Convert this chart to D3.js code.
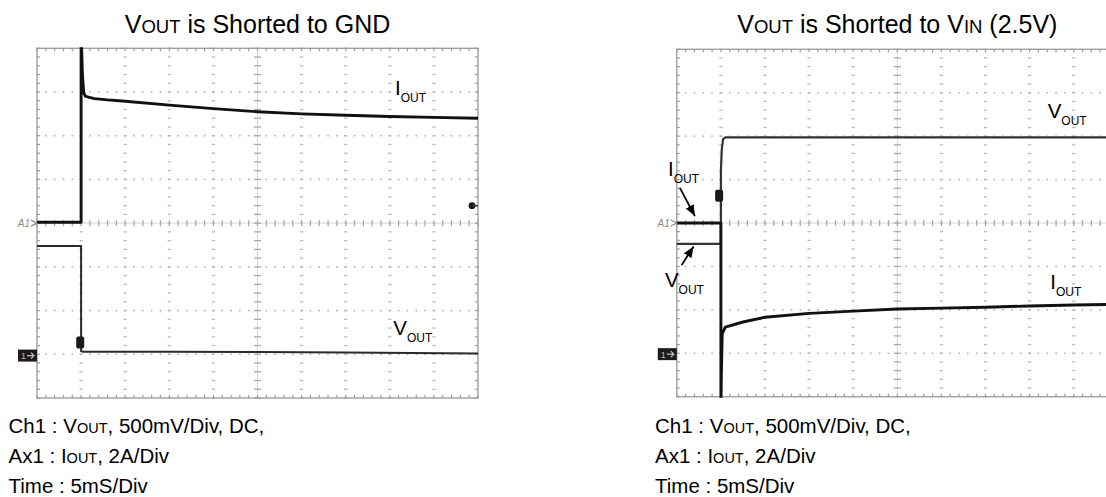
<!DOCTYPE html>
<html>
<head>
<meta charset="utf-8">
<script src="https://cdn.jsdelivr.net/npm/d3@7"></script>
<style>
body { margin: 0; background: #fff; }
svg text { font-family: "Liberation Sans", Arial, sans-serif; fill: #000; }
</style>
</head>
<body>
<svg id="chart" width="1106" height="497"></svg>
<script>
// all trace values are in scope divisions: time 0..10 div, level 0..8 div from the bottom
const gndIout = [[0,4.02],[1,4.02],[1,8.4],[1.03,7.4],[1.06,6.98],[1.1,6.9],[1.3,6.85],[1.6,6.82],
    [2,6.79],[3,6.7],[4,6.62],[5,6.55],[6,6.5],[7,6.47],[8,6.44],[9,6.42],[10,6.4]];
const gndVout = [[0,3.48],[1,3.48],[1,1.07],[1.05,1.06],[3,1.06],[5,1.05],[7,1.04],[10,1.02]];
const vinVout = [[0,3.52],[1,3.52],[1,5.2],[1.02,5.7],[1.05,5.93],[1.1,5.97],[10,5.97]];
const vinIout = [[0,4.0],[1,4.0],[1,-0.3],[1.01,0.5],[1.03,1.45],[1.1,1.6],[1.5,1.72],[2,1.83],
    [3,1.92],[4,1.97],[5,2.02],[6,2.04],[7,2.06],[8,2.09],[9,2.11],[10,2.13]];

// text pieces: [text, isSmall]
const gndTitle = [["V",0],["OUT",1],[" is Shorted to GND",0]];
const vinTitle = [["V",0],["OUT",1],[" is Shorted to V",0],["IN",1],[" (2.5V)",0]];
const captionLines = [
    [["Ch1 : V",0],["OUT",1],[", 500mV/Div, DC,",0]],
    [["Ax1 : I",0],["OUT",1],[", 2A/Div",0]],
    [["Time : 5mS/Div",0]]
];

const panels = [
    {
        title: gndTitle,
        box: {left: 37, top: 48.3, right: 478, bottom: 398},
        captionX: 8.5,
        traces: [{data: gndVout, width: 2, color: "#2a2a2a"}, {data: gndIout, width: 2.9, color: "#111"}],
        labels: [{main: "I", at: [8.12, 6.93]}, {main: "V", at: [8.08, 1.44]}],
        arrows: [],
        trigger: [0.98, 1.27],
        ground: 0.97,
        levelMark: 4.4
    },
    {
        title: vinTitle,
        box: {left: 676.8, top: 49.3, right: 1117.8, bottom: 396.7},
        captionX: 655,
        traces: [{data: vinVout, width: 2.2, color: "#333"}, {data: vinIout, width: 2.9, color: "#111"}],
        labels: [{main: "V", at: [8.41, 6.41]}, {main: "I", at: [-0.2, 5.08]},
                 {main: "V", at: [-0.27, 2.53]}, {main: "I", at: [8.47, 2.49]}],
        arrows: [[[0.07, 4.81], [0.41, 4.16]], [[0.11, 3.03], [0.38, 3.46]]],
        trigger: [0.96, 4.63],
        ground: 0.98,
        levelMark: null
    }
];

const svg = d3.select("#chart");

svg.append("defs").append("marker")
    .attr("id", "head")
    .attr("markerUnits", "userSpaceOnUse")
    .attr("markerWidth", 12).attr("markerHeight", 10)
    .attr("refX", 11).attr("refY", 4.5)
    .attr("orient", "auto")
    .append("path").attr("d", "M0,0 L11,4.5 L0,9 Z").attr("fill", "#000");

function addPieces(textSel, pieces, bigSize, smallSize) {
    pieces.forEach(p => {
        textSel.append("tspan")
            .style("font-size", (p[1] ? smallSize : bigSize) + "px")
            .text(p[0]);
    });
}

function drawGrid(g, x, y) {
    const minorX = d3.range(0, 50.5).map(i => i / 5);
    const minorY = d3.range(0, 40.5).map(i => i / 5);
    const grid = g.append("g").attr("class", "grid");

    // dotted horizontal graticule lines
    [1, 2, 3, 5, 6, 7].forEach(v => {
        grid.selectAll(null).data(minorX).enter().append("rect")
            .attr("x", d => x(d) - 0.8).attr("y", y(v) - 0.8)
            .attr("width", 1.6).attr("height", 1.6)
            .attr("fill", "#b0b0b0");
    });
    // dashed vertical graticule lines
    [1, 2, 3, 4, 6, 7, 8, 9].forEach(t => {
        grid.selectAll(null).data(minorY).enter().append("line")
            .attr("x1", x(t) - 1.6).attr("x2", x(t) + 1.6)
            .attr("y1", d => y(d)).attr("y2", d => y(d))
            .attr("stroke", "#b8b8b8").attr("stroke-width", 1.3);
    });
    // centre axes with minor ticks
    grid.append("line")
        .attr("x1", x(0)).attr("x2", x(10)).attr("y1", y(4)).attr("y2", y(4))
        .attr("stroke", "#d8d8d8").attr("stroke-width", 1);
    grid.append("line")
        .attr("x1", x(5)).attr("x2", x(5)).attr("y1", y(0)).attr("y2", y(8))
        .attr("stroke", "#d8d8d8").attr("stroke-width", 1);
    grid.selectAll(null).data(minorX).enter().append("line")
        .attr("x1", d => x(d)).attr("x2", d => x(d))
        .attr("y1", y(4) - 3).attr("y2", y(4) + 3)
        .attr("stroke", "#a8a8a8").attr("stroke-width", 1.3);
    grid.selectAll(null).data(minorY).enter().append("line")
        .attr("x1", x(5) - 3.5).attr("x2", x(5) + 3.5)
        .attr("y1", d => y(d)).attr("y2", d => y(d))
        .attr("stroke", "#a8a8a8").attr("stroke-width", 1.3);
    // border and its ticks
    grid.append("rect")
        .attr("x", x(0)).attr("y", y(8))
        .attr("width", x(10) - x(0)).attr("height", y(0) - y(8))
        .attr("fill", "none").attr("stroke", "#a0a0a0").attr("stroke-width", 1.4);
    [0, 8].forEach(v => {
        const dir = v === 0 ? -1 : 1;
        grid.selectAll(null).data(minorX).enter().append("line")
            .attr("x1", d => x(d)).attr("x2", d => x(d))
            .attr("y1", y(v)).attr("y2", y(v) + dir * 3)
            .attr("stroke", "#999").attr("stroke-width", 1.2);
    });
    [0, 10].forEach(t => {
        const dir = t === 0 ? 1 : -1;
        grid.selectAll(null).data(minorY).enter().append("line")
            .attr("x1", x(t)).attr("x2", x(t) + dir * 3)
            .attr("y1", d => y(d)).attr("y2", d => y(d))
            .attr("stroke", "#999").attr("stroke-width", 1.2);
    });
}

panels.forEach((p, i) => {
    const b = p.box;
    const x = d3.scaleLinear().domain([0, 10]).range([b.left, b.right]);
    const y = d3.scaleLinear().domain([0, 8]).range([b.bottom, b.top]);
    const g = svg.append("g").attr("class", "panel" + i);

    // title centred over the graticule
    const title = g.append("text")
        .attr("x", x(5)).attr("y", 32.5)
        .attr("text-anchor", "middle");
    addPieces(title, p.title, 25, 18.5);

    drawGrid(g, x, y);

    const clipId = "clip" + i;
    svg.select("defs").append("clipPath").attr("id", clipId)
        .append("rect")
        .attr("x", x(0) - 1).attr("y", y(8) - 1)
        .attr("width", x(10) - x(0) + 2).attr("height", y(0) - y(8) + 2);

    const line = d3.line().x(d => x(d[0])).y(d => y(d[1]));
    const traces = g.append("g").attr("clip-path", "url(#" + clipId + ")");
    traces.selectAll("path").data(p.traces).enter().append("path")
        .attr("d", d => line(d.data))
        .attr("fill", "none")
        .attr("stroke", d => d.color)
        .attr("stroke-width", d => d.width)
        .attr("stroke-linejoin", "round");

    // trigger position block
    g.append("rect")
        .attr("x", x(p.trigger[0]) - 4).attr("y", y(p.trigger[1]) - 6)
        .attr("width", 8).attr("height", 12).attr("rx", 2)
        .attr("fill", "#1a1a1a");

    // channel 1 ground marker
    const gy = y(p.ground);
    g.append("rect")
        .attr("x", x(0) - 19).attr("y", gy - 6)
        .attr("width", 19).attr("height", 12)
        .attr("fill", "#1c1c1c");
    g.append("text")
        .attr("x", x(0) - 16).attr("y", gy + 3.5)
        .style("font-size", "9px").style("fill", "#bbb")
        .text("1");
    g.append("path")
        .attr("d", `M${x(0) - 10},${gy} L${x(0) - 3},${gy} M${x(0) - 6},${gy - 3} L${x(0) - 3},${gy} L${x(0) - 6},${gy + 3}`)
        .attr("fill", "none").attr("stroke", "#bbb").attr("stroke-width", 1.3);

    // A1 reference marker
    g.append("text")
        .attr("x", x(0) - 7).attr("y", y(4) + 3.5)
        .attr("text-anchor", "end")
        .style("font-size", "10px").style("font-style", "italic").style("fill", "#8a8a8a")
        .text("A1");
    g.append("path")
        .attr("d", `M${x(0) - 6},${y(4) - 3} L${x(0)},${y(4)} L${x(0) - 6},${y(4) + 3}`)
        .attr("fill", "none").attr("stroke", "#8a8a8a").attr("stroke-width", 1.2);

    // trigger level marker on the right edge
    if (p.levelMark !== null) {
        g.append("circle")
            .attr("cx", x(10) - 6).attr("cy", y(p.levelMark))
            .attr("r", 3.4).attr("fill", "#1a1a1a");
        g.append("line")
            .attr("x1", x(10) - 6).attr("x2", x(10))
            .attr("y1", y(p.levelMark)).attr("y2", y(p.levelMark))
            .attr("stroke", "#333").attr("stroke-width", 1.5);
    }

    // trace labels
    p.labels.forEach(l => {
        const t = g.append("text").attr("x", x(l.at[0])).attr("y", y(l.at[1]));
        t.append("tspan").style("font-size", "20.5px").text(l.main);
        t.append("tspan").style("font-size", "12px").attr("dy", 7).text("OUT");
    });

    p.arrows.forEach(a => {
        g.append("line")
            .attr("x1", x(a[0][0])).attr("y1", y(a[0][1]))
            .attr("x2", x(a[1][0])).attr("y2", y(a[1][1]))
            .attr("stroke", "#000").attr("stroke-width", 1.8)
            .attr("marker-end", "url(#head)");
    });

    // settings caption
    captionLines.forEach((pieces, k) => {
        const t = g.append("text").attr("x", p.captionX).attr("y", 433 + k * 30);
        addPieces(t, pieces, 20.5, 14.5);
    });
});
</script>
</body>
</html>
